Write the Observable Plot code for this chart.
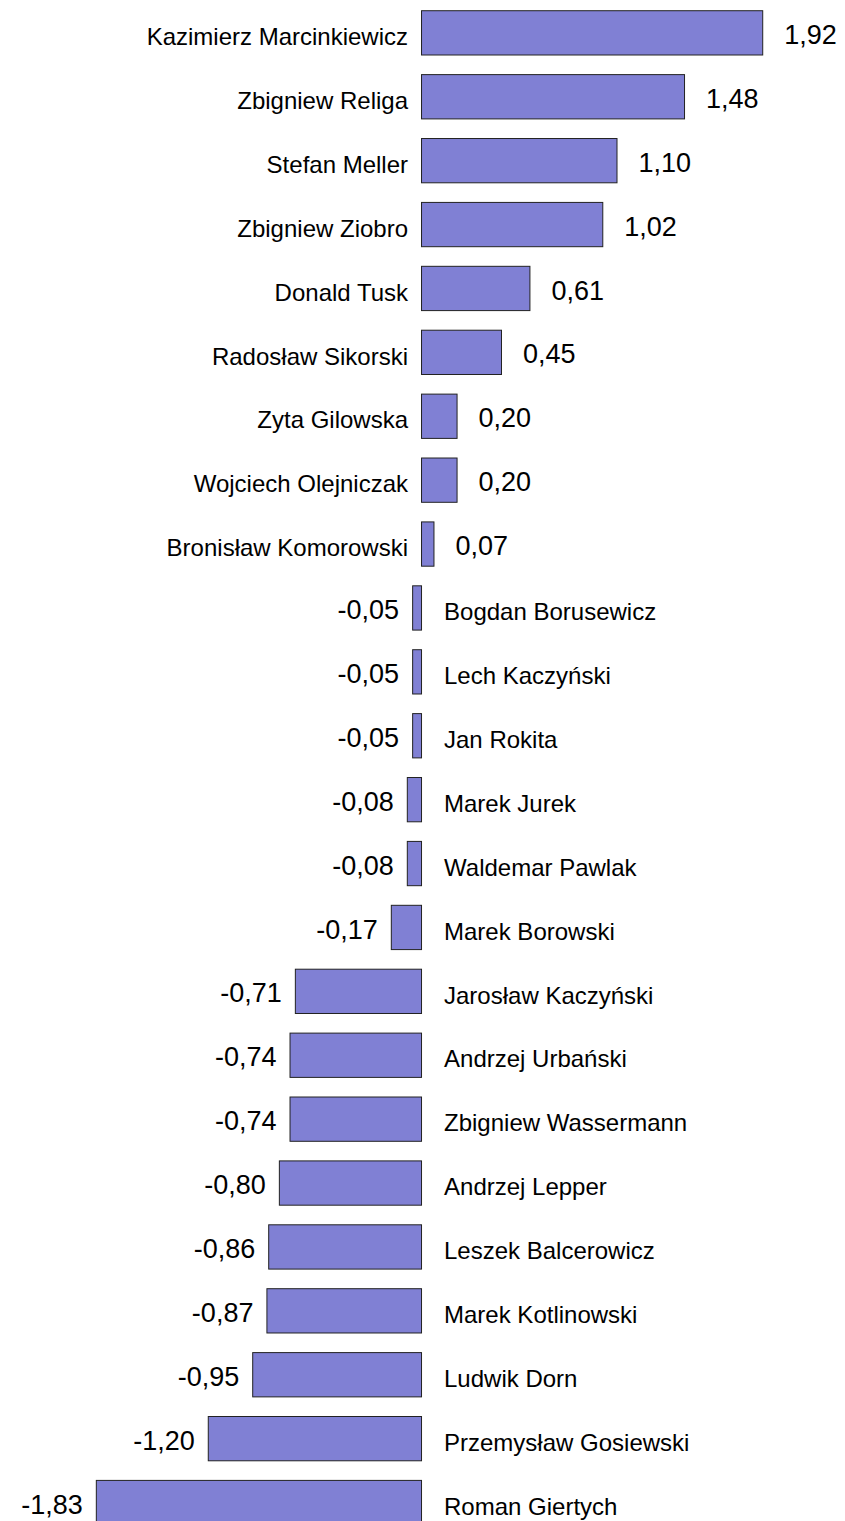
<!DOCTYPE html>
<html>
<head>
<meta charset="utf-8">
<script src="https://cdn.jsdelivr.net/npm/d3@7"></script>
<script src="https://cdn.jsdelivr.net/npm/@observablehq/plot@0.6"></script>
<style>
  html, body { margin: 0; padding: 0; background: #fff; overflow: hidden; }
  #chart svg { display: block; }
</style>
</head>
<body>
<div id="chart"></div>
<script>
const names = [
  "Kazimierz Marcinkiewicz", "Zbigniew Religa", "Stefan Meller", "Zbigniew Ziobro",
  "Donald Tusk", "Radosław Sikorski", "Zyta Gilowska", "Wojciech Olejniczak",
  "Bronisław Komorowski", "Bogdan Borusewicz", "Lech Kaczyński", "Jan Rokita",
  "Marek Jurek", "Waldemar Pawlak", "Marek Borowski", "Jarosław Kaczyński",
  "Andrzej Urbański", "Zbigniew Wassermann", "Andrzej Lepper", "Leszek Balcerowicz",
  "Marek Kotlinowski", "Ludwik Dorn", "Przemysław Gosiewski", "Roman Giertych"
];
const values = [
  1.92, 1.48, 1.10, 1.02,
  0.61, 0.45, 0.20, 0.20,
  0.07, -0.05, -0.05, -0.05,
  -0.08, -0.08, -0.17, -0.71,
  -0.74, -0.74, -0.80, -0.86,
  -0.87, -0.95, -1.20, -1.83
];

const fmt = v => d3.format(".2f")(v).replace(".", ",").replace("−", "-");
const data = names.map((name, i) => ({name, value: values[i], label: fmt(values[i])}));
const pos = data.filter(d => d.value >= 0);
const neg = data.filter(d => d.value < 0);

const font = "'Liberation Sans', Arial, sans-serif";

const chart = Plot.plot({
  width: 845,
  height: 1545,
  marginTop: 0,
  marginBottom: 0,
  marginLeft: 0,
  marginRight: 0,
  style: {fontFamily: font, background: "#fff"},
  x: {domain: [-2.372, 2.383], axis: null},
  y: {domain: names, padding: 0.307, align: 0.5, round: false, range: [-8.9, 1544.3], axis: null},
  marks: [
    Plot.barX(data, {x1: 0, x2: "value", y: "name", fill: "#8080d4", stroke: "#222", strokeWidth: 1}),
    // category names on the opposite side of zero
    Plot.text(pos, {x: 0, y: "name", text: "name", textAnchor: "end", dx: -14, dy: 4, fontSize: 24, fill: "#000"}),
    Plot.text(neg, {x: 0, y: "name", text: "name", textAnchor: "start", dx: 22, dy: 4, fontSize: 24, fill: "#000"}),
    // value labels beyond bar ends
    Plot.text(pos, {x: "value", y: "name", text: "label", textAnchor: "start", dx: 21, dy: 2, fontSize: 27, fill: "#000"}),
    Plot.text(neg, {x: "value", y: "name", text: "label", textAnchor: "end", dx: -14, dy: 2, fontSize: 27, fill: "#000"})
  ]
});
document.getElementById("chart").appendChild(chart);
</script>
</body>
</html>
